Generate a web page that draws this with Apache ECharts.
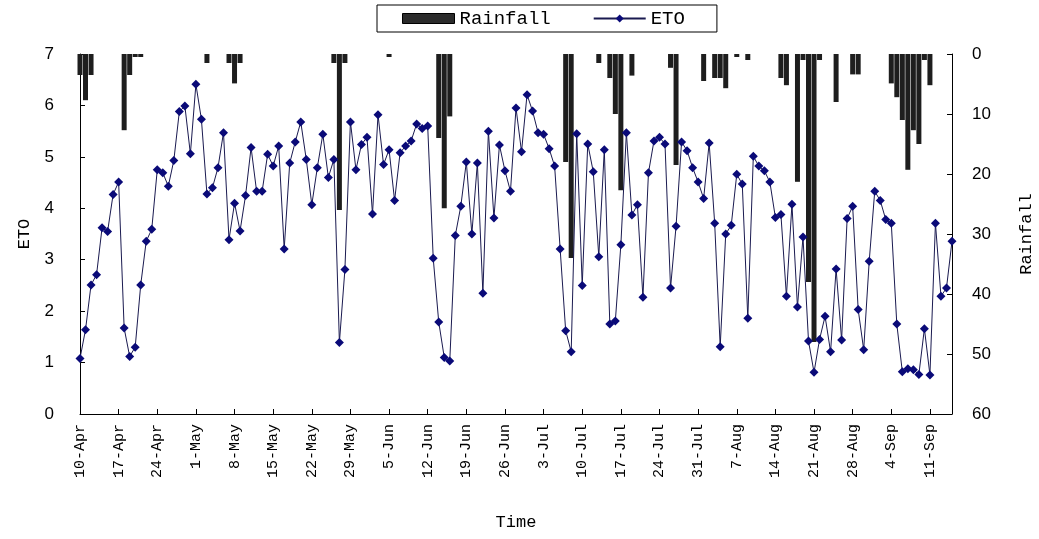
<!DOCTYPE html>
<html>
<head>
<meta charset="utf-8">
<script src="https://cdn.jsdelivr.net/npm/echarts@6/dist/echarts.min.js"></script>
<style>
html,body{margin:0;padding:0;background:#fff;}
#chart{width:1039px;height:539px;}
</style>
</head>
<body>
<div id="chart"></div>
<script>
// Daily series from 10-Apr to 15-Sep
var startMonth = 3, startDay = 10; // April 10
var monthNames = ['Jan','Feb','Mar','Apr','May','Jun','Jul','Aug','Sep','Oct','Nov','Dec'];

var eto = [
  1.08,1.64,2.51,2.71,3.62,3.55,4.27,4.51,1.67,1.12,
  1.30,2.51,3.36,3.59,4.75,4.69,4.43,4.93,5.88,5.99,
  5.06,6.41,5.73,4.28,4.40,4.79,5.47,3.39,4.10,3.56,
  4.25,5.18,4.33,4.33,5.05,4.82,5.21,3.21,4.88,5.29,
  5.68,4.95,4.07,4.79,5.44,4.60,4.95,1.39,2.81,5.68,
  4.75,5.24,5.38,3.89,5.82,4.85,5.14,4.15,5.08,5.21,
  5.31,5.64,5.55,5.60,3.03,1.79,1.10,1.03,3.47,4.04,
  4.90,3.50,4.88,2.35,5.50,3.81,5.23,4.73,4.33,5.95,
  5.10,6.21,5.89,5.47,5.44,5.16,4.82,3.21,1.62,1.21,
  5.45,2.50,5.25,4.71,3.06,5.14,1.75,1.81,3.29,5.47,
  3.87,4.07,2.27,4.69,5.31,5.38,5.25,2.45,3.65,5.29,
  5.12,4.79,4.51,4.19,5.27,3.71,1.31,3.50,3.67,4.66,
  4.47,1.86,5.01,4.82,4.73,4.51,3.82,3.88,2.29,4.08,
  2.08,3.44,1.42,0.81,1.45,1.90,1.21,2.82,1.44,3.80,
  4.04,2.03,1.25,2.97,4.33,4.15,3.78,3.71,1.75,0.82,
  0.88,0.86,0.77,1.66,0.76,3.71,2.29,2.45,3.36
];

var rainfall = [
  3.5,7.7,3.5,0,0,0,0,0,12.7,3.5,
  0.5,0.5,0,0,0,0,0,0,0,0,
  0,0,0,1.5,0,0,0,1.5,4.9,1.5,
  0,0,0,0,0,0,0,0,0,0,
  0,0,0,0,0,0,1.5,26,1.5,0,
  0,0,0,0,0,0,0.5,0,0,0,
  0,0,0,0,0,14,25.7,10.4,0,0,
  0,0,0,0,0,0,0,0,0,0,
  0,0,0,0,0,0,0,0,18,34,
  0,0,0,0,1.5,0,4,10,22.7,0,
  3.6,0,0,0,0,0,0,2.3,18.5,0,
  0,0,0,4.5,0,4,4,5.7,0,0.5,
  0,1,0,0,0,0,0,4,5.2,0,
  21.3,1,38,48,1,0,0,8,0,0,
  3.4,3.4,0,0,0,0,0,4.9,7.2,11,
  19.3,12.7,15,1,5.2,0,0,0,0
];

var etoTicks = [0,1,2,3,4,5,6,7];
var rainTicks = [0,10,20,30,40,50,60];

var categories = [];
(function(){
  var d = new Date(2001, startMonth, startDay);
  for (var i = 0; i < eto.length; i++) {
    categories.push(d.getDate() + '-' + monthNames[d.getMonth()]);
    d.setDate(d.getDate() + 1);
  }
})();

var monoFont = '"Liberation Mono", "DejaVu Sans Mono", monospace';
var numFont = '"Liberation Sans", Arial, sans-serif';

var chart = echarts.init(document.getElementById('chart'), null, {renderer: 'canvas'});
chart.setOption({
  backgroundColor: '#ffffff',
  animation: false,
  legend: {
    left: 377, top: 5,
    borderColor: '#000', borderWidth: 1,
    padding: [4, 32, 4, 25],
    itemWidth: 52, itemHeight: 10, itemGap: 42,
    textStyle: {fontFamily: monoFont, fontSize: 19, color: '#000'},
    data: [
      {name: 'Rainfall', icon: 'rect', itemStyle: {color: '#2b2b2b', borderColor: '#000', borderWidth: 1}},
      {name: 'ETO'}
    ]
  },
  grid: {left: 80, right: 87, top: 54, bottom: 125, containLabel: false, outerBoundsMode: 'none'},
  xAxis: {
    type: 'category',
    data: categories,
    boundaryGap: false,
    name: 'Time',
    nameLocation: 'middle',
    nameGap: 100,
    nameTextStyle: {fontFamily: monoFont, fontSize: 17, color: '#000'},
    axisLine: {show: true, lineStyle: {color: '#000', width: 1}},
    axisTick: {show: true, inside: true, interval: 6, length: 5, lineStyle: {color: '#000'}},
    axisLabel: {interval: 6, rotate: 90, margin: 10, fontFamily: monoFont, fontSize: 15, color: '#000'},
    splitLine: {show: false}
  },
  yAxis: [
    {
      type: 'value',
      min: etoTicks[0], max: etoTicks[etoTicks.length - 1], interval: 1,
      name: 'ETO',
      nameLocation: 'middle',
      nameGap: 47,
      nameRotate: 90,
      nameTextStyle: {fontFamily: monoFont, fontSize: 17, color: '#000'},
      axisLine: {show: true, lineStyle: {color: '#000', width: 1}},
      axisTick: {show: true, inside: true, length: 5, lineStyle: {color: '#000'}},
      axisLabel: {margin: 26, fontFamily: numFont, fontSize: 17, color: '#000'},
      splitLine: {show: false}
    },
    {
      type: 'value',
      min: rainTicks[0], max: rainTicks[rainTicks.length - 1], interval: 10,
      inverse: true,
      position: 'right',
      name: 'Rainfall',
      nameLocation: 'middle',
      nameGap: 66,
      nameRotate: 90,
      nameTextStyle: {fontFamily: monoFont, fontSize: 17, color: '#000'},
      axisLine: {show: true, lineStyle: {color: '#000', width: 1}},
      axisTick: {show: true, inside: true, length: 5, lineStyle: {color: '#000'}},
      axisLabel: {margin: 20, fontFamily: numFont, fontSize: 17, color: '#000'},
      splitLine: {show: false}
    }
  ],
  series: [
    {
      name: 'Rainfall',
      type: 'bar',
      yAxisIndex: 1,
      data: rainfall,
      barWidth: 5,
      itemStyle: {color: '#1e1e1e'},
      z: 1
    },
    {
      name: 'ETO',
      type: 'line',
      yAxisIndex: 0,
      data: eto,
      symbol: 'diamond',
      symbolSize: 9,
      showAllSymbol: true,
      lineStyle: {color: '#1a1a50', width: 1},
      itemStyle: {color: '#0a0a78'},
      z: 3
    }
  ]
});
</script>
</body>
</html>
